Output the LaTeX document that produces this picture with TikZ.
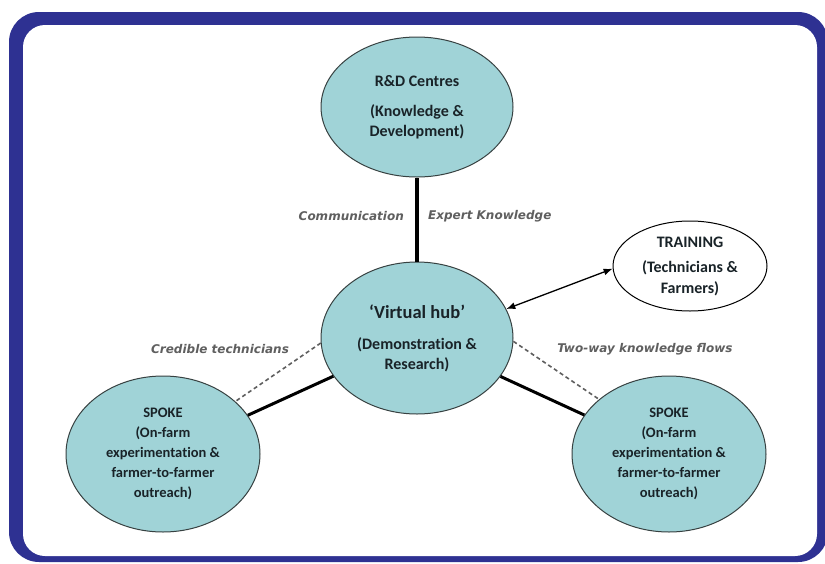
\documentclass[tikz,border=0pt]{standalone}
\usepackage{fontspec}
\setmainfont{Carlito}[Ligatures=NoCommon]
\newfontfamily\lblfont{DejaVu Sans}
\usetikzlibrary{shapes.geometric,arrows.meta}
\definecolor{frameblue}{RGB}{46,49,146}
\definecolor{nodeteal}{RGB}{160,211,215}
\definecolor{edgegray}{RGB}{55,65,65}
\definecolor{lblgray}{RGB}{95,95,95}
\definecolor{txtdark}{RGB}{25,35,40}
\begin{document}
\begin{tikzpicture}[x=1pt,y=-1pt,
  blob/.style={ellipse, draw=edgegray, line width=1pt, fill=nodeteal, inner sep=0pt,
    align=center, text=txtdark, font=\bfseries\fontsize{16}{20}\selectfont},
  spokebox/.style={blob, minimum width=194pt, minimum height=156pt,
    font=\bfseries\fontsize{14.5}{20}\selectfont},
  trainbox/.style={ellipse, draw=black, line width=1pt, fill=white, inner sep=0pt,
    align=center, text=txtdark, font=\bfseries\fontsize{16}{21}\selectfont},
  lbl/.style={font=\lblfont\bfseries\itshape\fontsize{12}{14}\selectfont, text=lblgray, inner sep=0pt},
  mainlink/.style={line width=4pt, black},
  spokelink/.style={line width=3pt, black},
  softlink/.style={line width=1.6pt, lblgray, dash pattern=on 4pt off 3pt},
  twoway/.style={line width=1.3pt, black, {Latex[length=9pt,width=7pt]}-{Latex[length=9pt,width=7pt]}}
]
\useasboundingbox (0,0) rectangle (825,563);
\fill[white] (0,0) rectangle (825,563);
\fill[frameblue, rounded corners=30pt] (9,12) rectangle (828,562);
\fill[white, rounded corners=22pt] (23,25) rectangle (817,556);

\node[blob, minimum width=192pt, minimum height=140pt] (rd) at (417,107)
  {R\&D Centres\\[10pt](Knowledge \&\\Development)};
\node[blob, minimum width=192pt, minimum height=152pt] (hub) at (417,338)
  {{\fontsize{18.5}{20}\selectfont ‘Virtual hub’}\\[11pt](Demonstration \&\\Research)};
\node[trainbox, minimum width=154pt, minimum height=90pt] (tr) at (690,266)
  {TRAINING\\[4pt](Technicians \&\\Farmers)};
\node[spokebox] (ls) at (163,454)
  {SPOKE\\(On-farm\\experimentation \&\\farmer-to-farmer\\outreach)};
\node[spokebox] (rs) at (669,454)
  {SPOKE\\(On-farm\\experimentation \&\\farmer-to-farmer\\outreach)};

\draw[mainlink] (rd) -- (hub);
\draw[spokelink] (hub) -- (ls);
\draw[spokelink] (hub) -- (rs);
\draw[softlink] (hub.183) -- (ls.36);
\draw[softlink] (hub.-2) -- (rs.142);
\draw[twoway] (hub.18) -- (tr.182);

\node[lbl, anchor=east] (lcomm) at (404,216) {Communication};
\node[lbl, anchor=west] (lexp) at (428,216) {Expert Knowledge};
\node[lbl] (lcred) at (220,349) {Credible technicians};
\node[lbl] (ltwo) at (645,349) {Two-way knowledge flows};
\end{tikzpicture}
\end{document}
